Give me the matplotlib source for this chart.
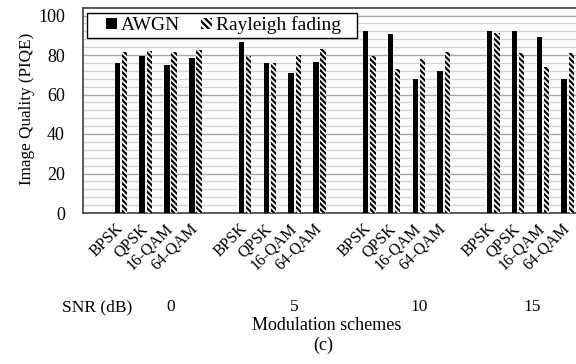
import matplotlib
matplotlib.use("Agg")
import matplotlib.pyplot as plt
from matplotlib.patches import Patch, Rectangle
from matplotlib.transforms import ScaledTranslation
import numpy as np

plt.rcParams['font.family'] = ['Liberation Serif', 'DejaVu Serif']
plt.rcParams['hatch.linewidth'] = 1.6

snr_levels = ["0", "5", "10", "15"]
modulations = ["BPSK", "QPSK", "16-QAM", "64-QAM"]
awgn = [76, 79.5, 75, 78.5,
        86.7, 76, 71, 76.5,
        92, 90.8, 68, 72,
        92.2, 92, 89.2, 67.7]
rayleigh = [81.5, 82, 81.5, 82.5,
            79.3, 75.8, 80, 82.8,
            79.5, 73, 77.8, 81.5,
            91.3, 80.8, 73.8, 81]

W, H = 576, 364
fig = plt.figure(figsize=(W/100, H/100), dpi=100)
ax = fig.add_axes([83/W, 1-213/H, 1-83/W, (213-7.6)/H])

pos = np.array([g*5 + i for g in range(len(snr_levels)) for i in range(len(modulations))], dtype=float)
w = 0.22
off = 0.145
ax.bar(pos - off, awgn, width=w, color='black', zorder=3)
ax.bar(pos + off, rayleigh, width=w, color='white', edgecolor='black',
       linewidth=0, hatch='\\' * 6, zorder=3)

ax.set_xlim(-1.53, 18.33)
ax.set_ylim(0, 104)
ax.set_yticks(np.arange(0, 101, 20))
ax.set_yticks(np.arange(0, 104, 4), minor=True)
ax.grid(axis='y', which='minor', color='#d4d4d4', linewidth=1.0, zorder=0)
ax.grid(axis='y', which='major', color='#a6a6a6', linewidth=1.0, zorder=0)
ax.tick_params(axis='both', which='both', length=0)
ax.tick_params(axis='y', labelsize=13, pad=13)
ax.set_xticks(pos)
ax.set_xticklabels(modulations * len(snr_levels), rotation=45, rotation_mode='anchor',
                   ha='right', va='top', fontsize=11.5)
ax.tick_params(axis='x', pad=7)
shift = ScaledTranslation(-6/100, 2/100, fig.dpi_scale_trans)
for lab in ax.get_xticklabels():
    lab.set_transform(lab.get_transform() + shift)
for s in ['left', 'bottom', 'top']:
    ax.spines[s].set_color('#404040')
    ax.spines[s].set_linewidth(1.2)
ax.spines['right'].set_visible(False)

ax.set_ylabel("Image Quality (PIQE)", fontsize=12.3)
ax.yaxis.label.set_va('center')
ax.yaxis.set_label_coords((27-83)/493, (213-108.5)/205.4)

# SNR row
fig.text(97/W, 1-307/H, "SNR (dB)", fontsize=12.5, ha='center', va='center')
snr_x = [2, 7, 12, 16.55]
ypos = (1-307/H - ax.get_position().y0) / ax.get_position().height
for sx, lab in zip(snr_x, snr_levels):
    ax.text(sx, ypos, lab, transform=ax.get_xaxis_transform(), fontsize=12.5,
            ha='center', va='center', clip_on=False)

fig.text(327/W, 1-325/H, "Modulation schemes", fontsize=13, ha='center', va='center')
fig.text(323/W, 1-345/H, "(c)", fontsize=13, ha='center', va='center')

# legend box
box = Rectangle((87/W, 1-38/H), (357-87)/W, 25/H, transform=fig.transFigure,
                facecolor='white', edgecolor='black', linewidth=1.0, zorder=4, clip_on=False)
ax.add_patch(box)
handles = [Patch(facecolor='black', edgecolor='black', linewidth=0, label='AWGN'),
           Patch(facecolor='white', edgecolor='black', linewidth=0, hatch='\\' * 5, label='Rayleigh fading')]
leg = ax.legend(handles=handles, loc='center left', bbox_to_anchor=(106/W, 1-25.5/H),
                bbox_transform=fig.transFigure, ncol=2, fontsize=14, frameon=False,
                borderaxespad=0, borderpad=0,
                handlelength=0.55, handleheight=0.55, handletextpad=0.2,
                columnspacing=1.1)
leg.set_zorder(5)

fig.savefig("out.png", dpi=100)
